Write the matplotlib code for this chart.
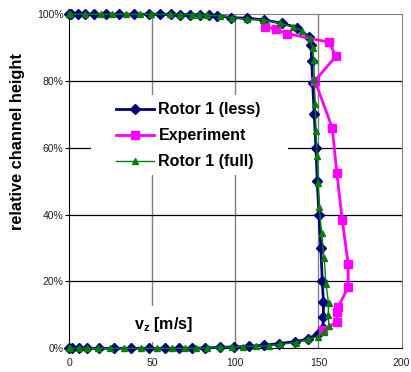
import matplotlib
matplotlib.use("Agg")
import matplotlib.pyplot as plt
from matplotlib.ticker import FuncFormatter
from matplotlib.patches import Rectangle

plt.rcParams['font.family'] = ['Liberation Sans', 'DejaVu Sans']
plt.rcParams['mathtext.fontset'] = 'custom'
plt.rcParams['mathtext.rm'] = 'Liberation Sans'
plt.rcParams['mathtext.bf'] = 'Liberation Sans:bold'
plt.rcParams['mathtext.it'] = 'Liberation Sans:italic'

# Rotor 1 (less): axial velocity [m/s] vs relative channel height [%]
less_vz = [0, 2, 6, 11, 18, 27, 37, 48, 58, 66, 74, 81.5, 90.5, 99, 108, 117,
           126, 136, 143.5, 149.5, 152.5, 153, 153, 152.3, 151.5, 150.3, 149.3,
           148.5, 147.5, 146.5, 146, 145.5, 144.3, 137, 128, 117.5, 107, 97.6,
           89, 84, 79, 73, 67, 61.5, 55, 48, 39, 30, 22, 15, 9.6, 5.6, 1.2, 0]
less_h = [0, 0, 0, 0, 0, 0, 0, 0, 0, 0, 0, 0.1, 0.3, 0.4, 0.6, 0.9,
          1.4, 2.0, 2.7, 4.4, 6.0, 9.5, 14.0, 20.2, 30.0, 40.0, 50.0,
          60.0, 70.0, 79.5, 86.0, 90.8, 93.3, 96.0, 97.3, 98.3, 98.8, 99.0,
          99.6, 99.7, 99.8, 99.9, 99.9, 100, 100, 100, 100, 100, 100, 100, 100, 100, 100, 100]

# Experiment
exp_vz = [117.8, 124.2, 131.3, 156.5, 160.5, 147.9, 158.3, 161.1, 164.3,
          167.9, 167.9, 162.0, 161.0, 161.0, 152.5]
exp_h = [96.3, 95.5, 94.2, 91.6, 87.4, 80.1, 66.0, 52.4, 38.5,
         25.2, 18.3, 12.5, 11.0, 7.8, 5.5]

# Rotor 1 (full)
full_vz = [0, 0.6, 6.2, 10.7, 17.6, 24.7, 33.1, 43.2, 52.8, 61.9, 69.5, 76.5,
           82.8, 90.5, 98, 104.6, 112.4, 120.3, 127.1, 136.6, 143.6, 149.8,
           153.6, 156.3, 155.9, 156.1, 154.5, 153.5, 151.9, 150.5, 149.9,
           149.3, 148.5, 148.1, 147.5, 147.3, 146.5, 144.9, 140.2, 134.7,
           126.7, 116.7, 107, 98, 90.5, 82.9, 77.9, 73.9, 66.9, 60.8, 49.2,
           42.8, 34.1, 26.1, 19.1, 9.6, 0.6, 0]
full_h = [0, 0, 0, 0, 0, 0, 0, 0, 0, 0, 0, 0,
          0.1, 0.3, 0.4, 0.5, 0.6, 0.8, 1.2, 1.7, 2.7, 3.5,
          4.8, 6.8, 10.0, 13.5, 19.3, 26.9, 34.4, 42.2, 49.6,
          57.7, 65.1, 73.1, 80.6, 86.3, 89.8, 93.0, 95.0, 96.3,
          97.3, 98.3, 98.5, 99.0, 99.5, 99.7, 99.8, 99.9, 99.9, 100, 100,
          100, 100, 100, 100, 100, 100, 100]

x_ticks = [0, 50, 100, 150, 200]
y_ticks = [0, 20, 40, 60, 80, 100]

fig = plt.figure(figsize=(4.11, 3.72), dpi=100)
ax = fig.add_axes([0.168, 0.0637, 0.809, 0.898])

ax.set_xlim(0, 200)
ax.set_ylim(0, 100)

# grid: grey verticals, black horizontals
for xv in x_ticks[1:-1]:
    ax.axvline(xv, color='#808080', lw=1.0, zorder=0)
for yv in y_ticks[1:-1]:
    ax.axhline(yv, color='black', lw=0.9, zorder=0)

l1, = ax.plot(less_vz, less_h, color='#000080', lw=2.0, marker='D',
              markersize=5, label='Rotor 1 (less)', zorder=3, clip_on=False)
l2, = ax.plot(exp_vz, exp_h, color='#FF00FF', lw=2.0, marker='s',
              markersize=6, label='Experiment', zorder=4, clip_on=False)
l3, = ax.plot(full_vz, full_h, color='#008000', lw=1.0, marker='^',
              markersize=5, label='Rotor 1 (full)', zorder=5, clip_on=False)

for side in ('top', 'right'):
    ax.spines[side].set_color('#808080')
for side in ('left', 'bottom'):
    ax.spines[side].set_color('black')

ax.set_xticks(x_ticks)
ax.set_yticks(y_ticks)
ax.yaxis.set_major_formatter(FuncFormatter(lambda v, p: f"{int(v)}%"))
ax.tick_params(axis='x', length=0, pad=7, labelsize=7.5, labelcolor='#222222')
ax.tick_params(axis='y', length=3, width=0.8, pad=1, labelsize=7.5,
               labelcolor='#222222')

ax.set_ylabel('relative channel height', fontsize=11.8, fontweight='bold')
ax.yaxis.set_label_coords(-0.133, 0.618)

# white legend panel
ax.add_patch(Rectangle((0.065, 0.520), 0.594, 0.239, transform=ax.transAxes,
                       facecolor='white', edgecolor='none', zorder=5.5))
leg = ax.legend(handles=[l1, l2, l3], loc='upper left',
                bbox_to_anchor=(0.1416, 0.737), frameon=False,
                prop={'size': 11.5, 'weight': 'bold'}, handlelength=2.4,
                handletextpad=0.25, labelspacing=0.7, borderpad=0,
                borderaxespad=0)
leg.set_zorder(6)

ax.text(0.283, 0.072, r'$\mathbf{v_z}$ [m/s]', transform=ax.transAxes,
        fontsize=11.5, fontweight='bold', ha='center', va='center', zorder=2,
        bbox=dict(facecolor='white', edgecolor='none', pad=6))

fig.savefig('out.png', dpi=100)
